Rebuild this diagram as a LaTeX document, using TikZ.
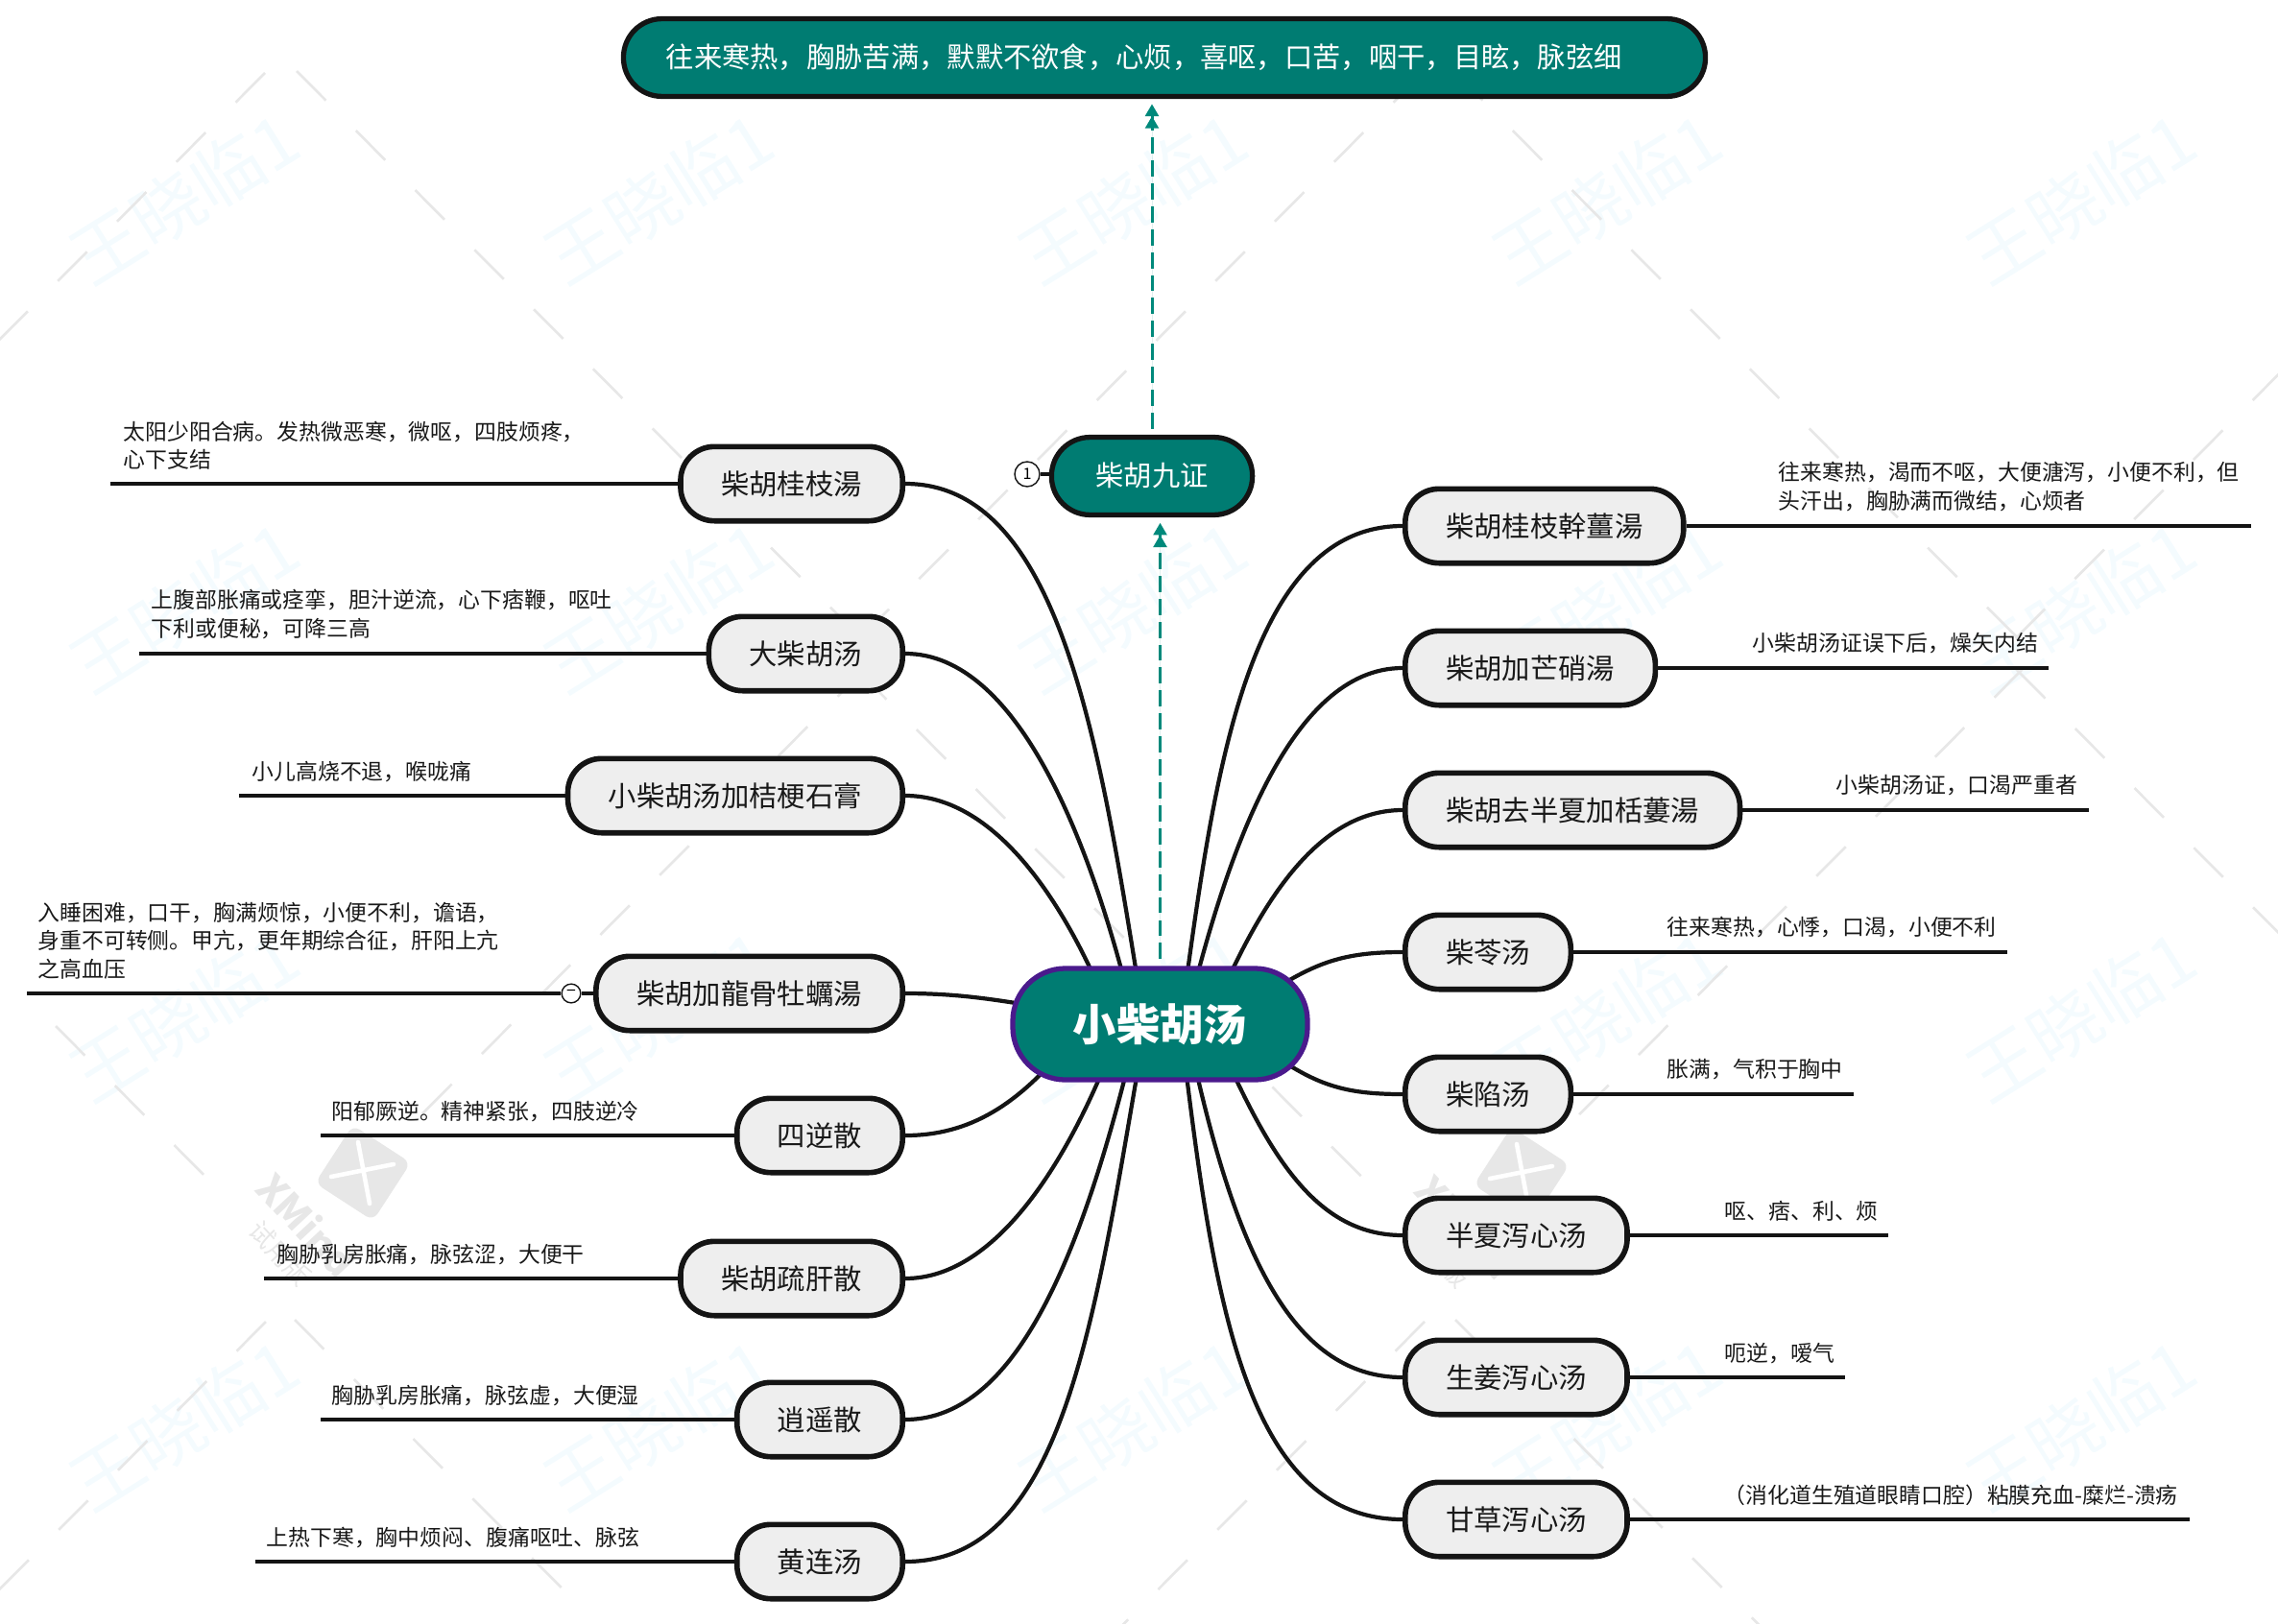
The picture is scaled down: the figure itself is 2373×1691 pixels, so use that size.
\documentclass[tikz,border=0pt]{standalone}
\usepackage{fontspec}
\setmainfont{Noto Sans CJK SC}
\usepackage{tikz}
\usetikzlibrary{positioning,calc,arrows.meta,backgrounds}
\definecolor{tealbox}{HTML}{007C72}
\definecolor{tealflow}{HTML}{00897B}
\definecolor{rootedge}{HTML}{4A1A8C}
\definecolor{edge}{HTML}{141414}
\definecolor{herbfill}{HTML}{EEEEEE}
\definecolor{wmblue}{HTML}{F4FBFE}
\definecolor{wmgrey}{HTML}{E7E7E7}

\begin{document}
\begin{tikzpicture}
  [
    x=0.01cm, y=-0.01cm,
    >={Triangle[length=3.6pt,width=3.9pt] Triangle[length=3.6pt,width=3.9pt,sep=-1.6pt]},
    herb/.style  = {draw=edge, fill=herbfill, line width=1.6pt, rounded corners=10pt,
                    minimum height=22pt, inner xsep=12pt, inner ysep=0pt,
                    text=black!90, font=\fontsize{8.35}{10}\selectfont},
    tealpill/.style = {draw=edge, fill=tealbox, line width=1.5pt, rounded corners=11.4pt,
                    minimum height=23pt, text=white, font=\fontsize{8.33}{10}\selectfont},
    note/.style  = {anchor=west, align=left, inner sep=0pt, text=black!90,
                    font=\fontsize{6.5}{8.4}\selectfont},
    fold/.style  = {draw=edge, fill=white, circle, line width=.4pt, inner sep=0pt},
    leaf/.style  = {draw=edge, line width=1pt},
    link/.style  = {draw=edge, line width=1.2pt},
    flow/.style  = {->, draw=tealflow, fill=tealflow, line width=.85pt, dash pattern=on 4.8pt off 2pt},
    wmtext/.style = {text=wmblue, rotate=32, inner sep=0pt, font=\fontsize{21}{21}\selectfont},
    wmtick/.style = {draw=wmgrey, line width=.75pt, dash pattern=on 12.3pt off 12.6pt},
  ]

  % page
  \useasboundingbox (0,0) rectangle (2373,1691);

  % watermark behind everything
  \begin{scope}[on background layer]
    \foreach \i in {0,...,4}
      \foreach \j in {0,...,3}
        \node[wmtext] (wm\i\j) at ({192+494*\i},{206+426*\j}) {王晓临1};

    % dashed diagonals: first tick, direction, periods
    \foreach \sx/\sy/\dir/\n in {276/76/-1/5, 309/74/1/10, 1482/76/-1/10, 1514/74/1/10, 2686/76/-1/10,
                                 58/1069/1/3, 903/695/-1/8, 893/698/1/9, 2108/696/-1/8, 2100/697/1/5,
                                 277/1377/-1/5, 307/1375/1/5, 1484/1377/-1/6, 1516/1375/1/6}
      \draw[wmtick] (\sx,\sy) -- ++({\dir*61.7*\n},{62*\n});

    % trial logo
    \foreach \ox/\oy in {378/1222, 1585/1224}
    {
      \node[fill=wmgrey, rounded corners=2.5pt, rotate=-33, minimum size=20.5pt, inner sep=0pt]
        (logo\ox) at (\ox,\oy) {};
      \draw[white, line width=1.3pt, line cap=round]
        (\ox-33,\oy+4) -- (\ox+32,\oy-9)
        (\ox-5,\oy-32) -- (\ox+7,\oy+32);
      \node[text=wmgrey, rotate=-47, inner sep=0pt, font=\bfseries\fontsize{11.5}{12}\selectfont]
        (mark\ox) at (\ox-58,\oy+54) {XMind};
      \node[text=wmgrey, rotate=-47, inner sep=0pt, font=\fontsize{7.5}{8}\selectfont]
        (trial\ox) at (\ox-86,\oy+84) {试用版};
    }
  \end{scope}

  % main nodes
  \node[tealpill, minimum width=320.5pt, text width=295.3pt, inner xsep=12.1pt, align=left, inner ysep=0pt]
    (top) at (1213,60) {往来寒热，胸胁苦满，默默不欲食，心烦，喜呕，口苦，咽干，目眩，脉弦细};
  \node[tealpill, minimum width=59.5pt] (jz) at (1200,496) {\raisebox{.8pt}{柴胡九证}};
  \node[draw=rootedge, fill=tealbox, line width=1.5pt, rounded corners=15.6pt,
        minimum width=87.3pt, minimum height=33pt, text=white,
        font=\bfseries\fontsize{12.9}{14}\selectfont] (root) at (1208.5,1067) {\raisebox{.7pt}{小柴胡汤}};

  % left branches: name/y/text/note x/note y/line end/note
  \foreach \nm/\cy/\txt/\nx/\ny/\ex/\ntxt in {
    gz/504/柴胡桂枝湯/128/464/115/{太阳少阳合病。发热微恶寒，微呕，四肢烦疼，\\心下支结},
    dc/681/大柴胡汤/157/640/145/{上腹部胀痛或痉挛，胆汁逆流，心下痞鞭，呕吐\\下利或便秘，可降三高},
    jg/829/小柴胡汤加桔梗石膏/262/804/249/{小儿高烧不退，喉咙痛},
    lg/1035/柴胡加龍骨牡蠣湯/39/980/28/{入睡困难，口干，胸满烦惊，小便不利，谵语，\\身重不可转侧。甲亢，更年期综合征，肝阳上亢\\之高血压},
    sn/1183/四逆散/345/1158/334/{阳郁厥逆。精神紧张，四肢逆冷},
    sh/1332/柴胡疏肝散/288/1307/275/{胸胁乳房胀痛，脉弦涩，大便干},
    xy/1479/逍遥散/345/1454/334/{胸胁乳房胀痛，脉弦虚，大便湿},
    hl/1627/黄连汤/277/1602/266/{上热下寒，胸中烦闷、腹痛呕吐、脉弦}}
  {
    \node[herb, anchor=east] (\nm) at (943,\cy) {\txt};
    \node[note] (\nm-note) at (\nx,\ny) {\ntxt};
    \coordinate (\nm-end) at (\ex,\cy);
  }

  % right branches
  \foreach \nm/\cy/\txt/\nx/\ny/\ex/\ntxt in {
    gg/548/柴胡桂枝幹薑湯/1852/507/2345/{往来寒热，渴而不呕，大便溏泻，小便不利，但\\头汗出，胸胁满而微结，心烦者},
    ms/696/柴胡加芒硝湯/1825/670/2134/{小柴胡汤证误下后，燥矢内结},
    bx/844/柴胡去半夏加栝蔞湯/1912/818/2176/{小柴胡汤证，口渴严重者},
    cl/992/柴苓汤/1736/966/2091/{往来寒热，心悸，口渴，小便不利},
    cx/1140/柴陷汤/1736/1114/1931/{胀满，气积于胸中},
    bn/1287/半夏泻心汤/1796/1262/1967/{呕、痞、利、烦},
    sj/1435/生姜泻心汤/1796/1410/1922/{呃逆，嗳气},
    gc/1583/甘草泻心汤/1795/1558/2281/{（消化道生殖道眼睛口腔）粘膜充血-糜烂-溃疡}}
  {
    \node[herb, anchor=west] (\nm) at (1461,\cy) {\txt};
    \node[note] (\nm-note) at (\nx,\ny) {\ntxt};
    \coordinate (\nm-end) at (\ex,\cy);
  }

  % leaf lines
  \foreach \nm in {gz,dc,jg,sn,sh,xy,hl}
    \draw[leaf] (\nm.west) -- (\nm-end);
  \foreach \nm in {gg,ms,bx,cl,cx,bn,sj,gc}
    \draw[leaf] (\nm.east) -- (\nm-end);

  % collapse mark and number mark
  \node[fold, minimum size=5.6pt, font=\fontsize{5}{5}\selectfont] (lgfold) at (595,1035) {−};
  \draw[leaf] (lg.west) -- (lgfold);
  \draw[leaf] (lgfold) -- (lg-end);
  \node[fold, minimum size=7.4pt, font=\fontsize{4.6}{5}\selectfont] (jzmark) at (1070,494) {1};
  \draw[leaf] (jzmark) -- (jz.west |- jzmark);

  % dashed flow
  \draw[flow, shorten <=2pt, shorten >=3.2pt] (root.north) -- (jz.south -| root.north);
  \draw[flow, shorten <=1.7pt, shorten >=3.1pt] (jz.north) -- (jz.north |- top.south);

  % curves into the root, under the nodes
  \begin{scope}[on background layer]
    \foreach \nm/\side/\ax/\bx/\by/\dx/\dy in {
      gz/east/168/-44/-267/-16/0, dc/east/118/-44/-187/-26/0, jg/east/98/-45/-117/-48/0,
      lg/east/58/-60/-10/-108/-15, sn/east/68/-50/60/-98/23, sh/east/98/-48/133/-41/0,
      xy/east/118/-55/233/-23/0, hl/east/168/-53/303/-15/0,
      gg/west/-168/33/-237/21/0, ms/west/-117/42/-177/26/0, bx/west/-97/45/-107/50/0,
      cl/west/-62/50/-32/112/-32, cx/west/-62/50/35/112/28, bn/west/-97/54/123/53/0,
      sj/west/-117/48/233/27/0, gc/west/-168/33/273/21/0}
      \draw[link] (\nm.\side) .. controls +(\ax,0) and +(\bx,\by) .. ($(root)+(\dx,\dy)$);
  \end{scope}
\end{tikzpicture}
\end{document}
